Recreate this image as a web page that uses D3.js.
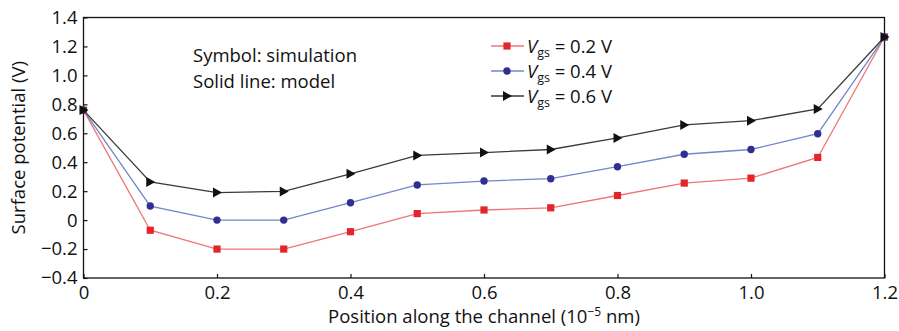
<!DOCTYPE html>
<html><head><meta charset="utf-8">
<script src="https://cdn.jsdelivr.net/npm/d3@7"></script>
<style>
body{margin:0;background:#fff;}
text{font-family:"Open Sans",sans-serif;fill:#111;}
</style></head>
<body><svg id="c" width="899" height="331"></svg>
<script>
const positions = [0,0.1,0.2,0.3,0.4,0.5,0.6,0.7,0.8,0.9,1.0,1.1,1.2];
const vgs02 = [0.76,-0.07,-0.20,-0.20,-0.08,0.045,0.07,0.085,0.17,0.256,0.29,0.433,1.265];
const vgs04 = [0.76,0.097,0.0,0.0,0.12,0.243,0.27,0.286,0.369,0.455,0.488,0.597,1.265];
const vgs06 = [0.76,0.264,0.19,0.198,0.32,0.447,0.467,0.488,0.568,0.658,0.687,0.768,1.265];
const xTicks = [0,0.2,0.4,0.6,0.8,1.0,1.2];
const yTicks = [-0.4,-0.2,0,0.2,0.4,0.6,0.8,1.0,1.2,1.4];
const seriesNames = ["0.2 V","0.4 V","0.6 V"];

const FS = 18.5;
const svg = d3.select("#c");
const L=83.5,R=884.5,T=17.5,B=278;
const x = d3.scaleLinear().domain([0,1.2]).range([L,R]);
const y = d3.scaleLinear().domain([-0.4,1.4]).range([B,T]);

// frame
svg.append("rect").attr("x",L).attr("y",T).attr("width",R-L).attr("height",B-T)
  .attr("fill","none").attr("stroke","#111").attr("stroke-width",1.3);

const fmtX = d=> d===0?"0":d3.format(".1f")(d);
const fmtY = d=> d===0?"0":d3.format(".1f")(d).replace("-","\u2212");

const gx = svg.append("g").attr("transform",`translate(0,${B})`)
  .call(d3.axisBottom(x).tickValues(xTicks).tickFormat(fmtX).tickSizeInner(-4).tickSizeOuter(0).tickPadding(8));
gx.select(".domain").remove();
gx.selectAll("line").attr("stroke","#111").attr("stroke-width",1.2);
gx.selectAll("text").attr("font-size",FS).attr("font-family","Open Sans").attr("fill","#111");

const gy = svg.append("g").attr("transform",`translate(${L},0)`)
  .call(d3.axisLeft(y).tickValues(yTicks).tickFormat(fmtY).tickSizeInner(-4).tickSizeOuter(0).tickPadding(6));
gy.select(".domain").remove();
gy.selectAll("line").attr("stroke","#111").attr("stroke-width",1.2);
gy.selectAll("text").attr("font-size",FS).attr("font-family","Open Sans").attr("fill","#111");

// axis titles
svg.append("text").attr("x",(L+R)/2).attr("y",323).attr("text-anchor","middle").attr("font-size",FS)
  .html('Position along the channel (10<tspan dy="-7" font-size="12">\u22125</tspan><tspan dy="7"> nm)</tspan>');
svg.append("text").attr("transform",`translate(25,${(T+B)/2}) rotate(-90)`).attr("text-anchor","middle")
  .attr("font-size",FS).text("Surface potential (V)");

// series
const series = [
  {vals:vgs02, line:"#f07474", mark:"#e3262c", shape:"square"},
  {vals:vgs04, line:"#7187c8", mark:"#2e3192", shape:"circle"},
  {vals:vgs06, line:"#3a3a3a", mark:"#111", shape:"tri"}
];
const lineGen = d3.line().x(d=>x(d[0])).y(d=>y(d[1]));
function drawMarker(g, shape, color, cx, cy){
  if(shape==="square") g.append("rect").attr("x",cx-3.6).attr("y",cy-3.6).attr("width",7.2).attr("height",7.2).attr("fill",color);
  else if(shape==="circle") g.append("circle").attr("cx",cx).attr("cy",cy).attr("r",3.7).attr("fill",color);
  else g.append("path").attr("d",`M${cx-4},${cy-5}L${cx+5},${cy}L${cx-4},${cy+5}Z`).attr("fill",color);
}
series.forEach(s=>{
  const pts = positions.map((p,i)=>[p,s.vals[i]]);
  svg.append("path").attr("d",lineGen(pts)).attr("fill","none").attr("stroke",s.line).attr("stroke-width",1.3);
});
series.forEach(s=>{
  const g = svg.append("g");
  positions.forEach((p,i)=>drawMarker(g,s.shape,s.mark,x(p),y(s.vals[i])));
});

// annotation
svg.append("text").attr("x",193).attr("y",62).attr("font-size",FS).text("Symbol: simulation");
svg.append("text").attr("x",193).attr("y",88).attr("font-size",FS).text("Solid line: model");

// legend
const legY = [46,71,96];
series.forEach((s,i)=>{
  const g = svg.append("g");
  g.append("line").attr("x1",491).attr("x2",524).attr("y1",legY[i]).attr("y2",legY[i]).attr("stroke",s.line).attr("stroke-width",1.5);
  drawMarker(g,s.shape,s.mark,507,legY[i]);
  g.append("text").attr("x",527).attr("y",legY[i]+6.5).attr("font-size",FS)
    .html(`<tspan font-style="italic">V</tspan><tspan font-size="12.5" dy="4">gs</tspan><tspan dy="-4"> = ${seriesNames[i]}</tspan>`);
});
</script></body></html>
